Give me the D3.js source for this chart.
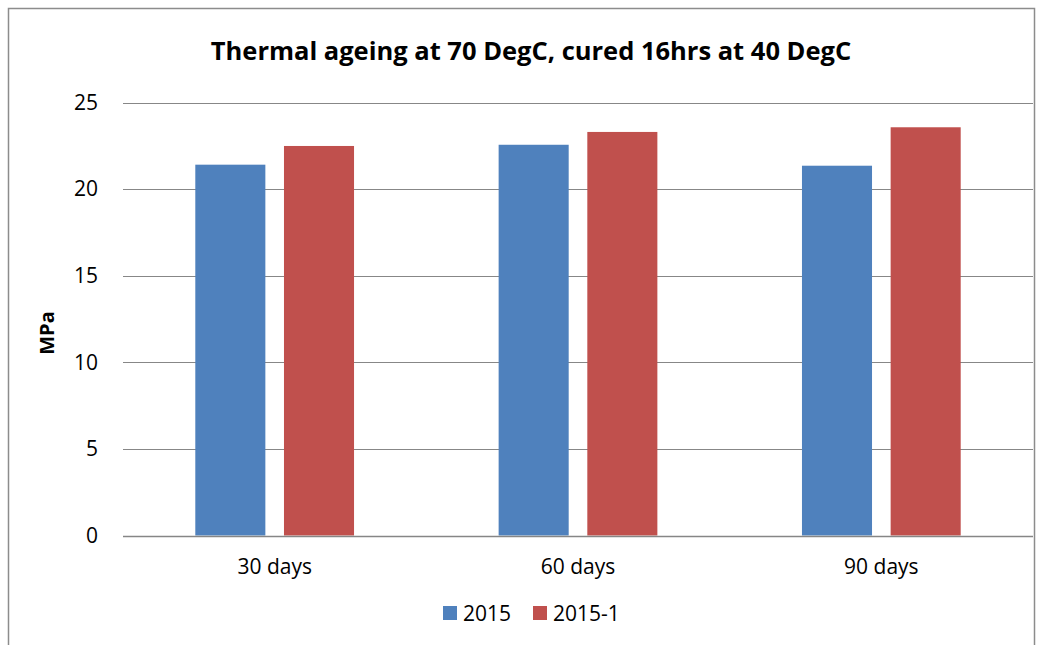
<!DOCTYPE html>
<html>
<head>
<meta charset="utf-8">
<script src="https://cdn.jsdelivr.net/npm/d3@7"></script>
<style>
  html, body { margin: 0; padding: 0; background: #fff; }
  svg { display: block; font-family: "Open Sans", sans-serif; }
</style>
</head>
<body>
<div class="chart"></div>
<script>
// data
const categories = ['30 days', '60 days', '90 days'];
const seriesNames = ['2015', '2015-1'];
const values2015 = [21.41, 22.56, 21.35];
const values2015b = [22.49, 23.30, 23.57];
const yTicks = [0, 5, 10, 15, 20, 25];
const colors = ['#4F81BD', '#C0504D'];

const width = 1038, height = 645;
const plot = {left: 123, right: 1033, top: 102.5, bottom: 535.5};

const svg = d3.select('.chart').append('svg')
    .attr('width', width).attr('height', height);

// outer chart border
svg.append('rect')
    .attr('x', 8.5).attr('y', 8.5)
    .attr('width', 1026).attr('height', 700)
    .attr('fill', '#fff').attr('stroke', '#8c8c8c').attr('stroke-width', 1.5);

// scales
const x0 = d3.scaleBand().domain(categories).range([plot.left, plot.right]);
const x1 = d3.scaleBand().domain(seriesNames)
    .range([72.3, x0.bandwidth() - 72.3]).paddingInner(0.21);
const y = d3.scaleLinear().domain([0, 25]).range([plot.bottom, plot.top]);

// gridlines
svg.append('g').selectAll('line').data(yTicks).enter().append('line')
    .attr('x1', plot.left).attr('x2', plot.right)
    .attr('y1', d => Math.round(y(d)) + 0.5).attr('y2', d => Math.round(y(d)) + 0.5)
    .attr('stroke', '#878787').attr('stroke-width', 1.2);

// y axis labels
const yAxis = d3.axisLeft(y).tickValues(yTicks).tickSize(0).tickPadding(25);
const gy = svg.append('g').attr('transform', `translate(${plot.left},0)`).call(yAxis);
gy.select('.domain').remove();
gy.selectAll('text').attr('font-size', '21px').attr('fill', '#000')
    .attr('font-family', '"Open Sans", sans-serif');

// bars
const rows = categories.map((c, i) => ({cat: c, vals: [values2015[i], values2015b[i]]}));
const groups = svg.append('g').selectAll('g').data(rows).enter().append('g')
    .attr('transform', d => `translate(${x0(d.cat)},0)`);
groups.selectAll('rect')
    .data(d => d.vals.map((v, j) => ({name: seriesNames[j], value: v, j: j})))
    .enter().append('rect')
    .attr('x', d => x1(d.name))
    .attr('width', x1.bandwidth())
    .attr('y', d => y(d.value))
    .attr('height', d => y(0) - y(d.value))
    .attr('fill', d => colors[d.j]);

// axis line on top
svg.append('line')
    .attr('x1', plot.left).attr('x2', plot.right)
    .attr('y1', Math.round(y(0)) + 0.5).attr('y2', Math.round(y(0)) + 0.5)
    .attr('stroke', '#868686').attr('stroke-width', 1.5);

// x axis labels
const xAxis = d3.axisBottom(x0).tickSize(0).tickPadding(24);
const gx = svg.append('g').attr('transform', `translate(0,${plot.bottom})`).call(xAxis);
gx.select('.domain').remove();
gx.selectAll('text').attr('font-size', '21px').attr('fill', '#000')
    .attr('font-family', '"Open Sans", sans-serif');

// title
svg.append('text')
    .attr('x', 531).attr('y', 60)
    .attr('text-anchor', 'middle')
    .attr('font-size', '25.5px').attr('font-weight', 'bold')
    .text('Thermal ageing at 70 DegC, cured 16hrs at 40 DegC');

// y axis title
svg.append('text')
    .attr('transform', 'translate(54,333) rotate(-90)')
    .attr('text-anchor', 'middle')
    .attr('font-size', '20px').attr('font-weight', 'bold')
    .text('MPa');

// legend
const legendItems = [{name: '2015', x: 443}, {name: '2015-1', x: 533}];
const legend = svg.append('g').selectAll('g').data(legendItems).enter().append('g')
    .attr('transform', d => `translate(${d.x},0)`);
legend.append('rect')
    .attr('x', 0).attr('y', 606).attr('width', 14).attr('height', 14)
    .attr('fill', (d, i) => colors[i]);
legend.append('text')
    .attr('x', 20).attr('y', 621)
    .attr('font-size', '21px')
    .text(d => d.name);
</script>
</body>
</html>
